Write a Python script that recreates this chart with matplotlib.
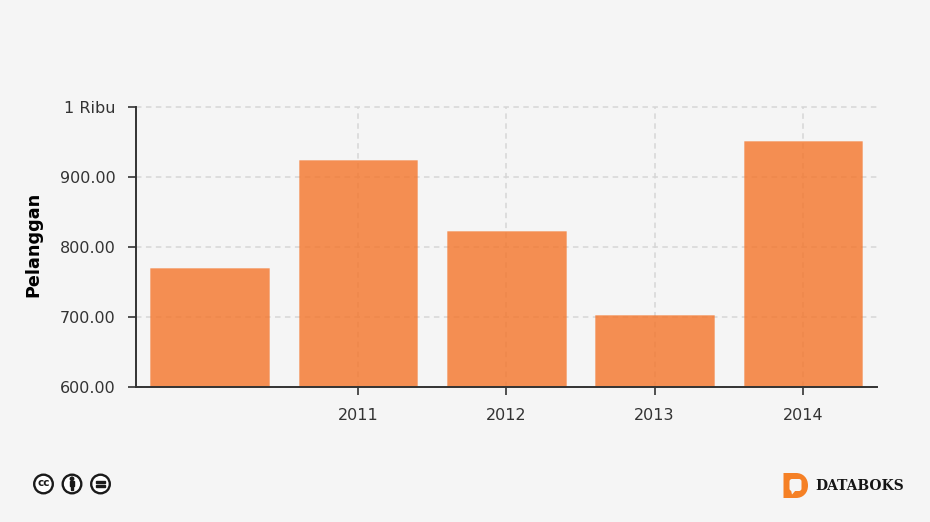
import matplotlib
matplotlib.use('Agg')
import matplotlib.pyplot as plt
from matplotlib.colors import to_rgba
from matplotlib.patches import Circle, Rectangle, FancyBboxPatch, Polygon, PathPatch
from matplotlib.path import Path

categories = ['', '2011', '2012', '2013', '2014']
values = [770, 924, 823, 703, 951]
y_ticks = [600, 700, 800, 900, 1000]
y_labels = ['600.00', '700.00', '800.00', '900.00', '1 Ribu']

W, H = 930, 522
bg = '#f5f5f5'
orange = '#f47429'
dark = '#333333'
grid = '#d6d6d6'

plt.rcParams['font.family'] = ['DejaVu Sans']

fig = plt.figure(figsize=(W / 100, H / 100), dpi=100, facecolor=bg)
ax = fig.add_axes([135.5 / W, 1 - 387 / H, 741.5 / W, 280 / H], facecolor=bg)

positions = list(range(len(categories)))
# grid shows faintly through the bars, edge is a thin lighter line
ax.bar(positions, values, width=0.8, facecolor=to_rgba(orange, 0.8),
       edgecolor=to_rgba(orange, 0.25), linewidth=0.7, zorder=2)

ax.set_xlim(-0.5, 4.5)
ax.set_ylim(600, 1000)

# first category has no label, tick or grid line
ax.set_xticks(positions[1:])
ax.set_xticklabels(categories[1:])
ax.set_yticks(y_ticks)
ax.set_yticklabels(y_labels)

ax.set_axisbelow(True)
ax.grid(True, color=grid, linestyle=(0, (3.6, 2.9)), linewidth=1.1)
for line in ax.get_ygridlines() + ax.get_xgridlines():
    line.set_clip_on(False)

ax.spines['top'].set_visible(False)
ax.spines['right'].set_visible(False)
ax.spines['left'].set_color(dark)
ax.spines['bottom'].set_color(dark)
ax.spines['left'].set_linewidth(1.4)
ax.spines['bottom'].set_linewidth(1.4)
ax.spines['left'].set_zorder(4)
ax.spines['bottom'].set_zorder(4)
ax.tick_params(axis='y', length=6, width=1.2, color=dark, labelcolor=dark, labelsize=11.5, pad=8.5)
ax.tick_params(axis='x', length=6, width=1.2, color=dark, labelcolor=dark, labelsize=11.5, pad=9.2)

fig.text(33.5 / W, 1 - 244.5 / H, 'Pelanggan', rotation=90, ha='center', va='center',
         fontsize=12.7, fontweight='bold', color='black')

# footer logos, drawn in pixel coordinates
logo = fig.add_axes([0, 0, 1, 1], facecolor='none', zorder=5)
logo.set_xlim(0, W)
logo.set_ylim(H, 0)
logo.set_aspect('equal')
logo.axis('off')

for cx in [43.5, 72, 100.5]:
    logo.add_patch(Circle((cx, 484), 9.3, facecolor='white', edgecolor='#1a1a1a', linewidth=1.7))
logo.text(43.5, 483.5, 'cc', ha='center', va='center', fontsize=7.5, fontweight='bold', color='#1a1a1a')
logo.add_patch(Circle((72, 478.8), 1.7, color='#1a1a1a'))
logo.add_patch(Rectangle((69.8, 481), 4.4, 5, color='#1a1a1a'))
logo.add_patch(Rectangle((70.8, 485), 2.4, 5, color='#1a1a1a'))
logo.add_patch(Rectangle((96, 481), 9, 2, color='#1a1a1a'))
logo.add_patch(Rectangle((96, 485), 9, 2, color='#1a1a1a'))

logo_orange = '#f58025'
d_path = Path([(783.5, 473), (796, 473), (803, 473), (808, 478), (808, 485.5),
               (808, 493), (803, 498), (796, 498), (783.5, 498), (783.5, 473)],
              [Path.MOVETO, Path.LINETO, Path.CURVE4, Path.CURVE4, Path.CURVE4,
               Path.CURVE4, Path.CURVE4, Path.CURVE4, Path.LINETO, Path.CLOSEPOLY])
logo.add_patch(PathPatch(d_path, facecolor=logo_orange, edgecolor='none'))
logo.add_patch(FancyBboxPatch((789.5, 479), 12, 12, boxstyle='round,pad=0,rounding_size=2.5',
                              facecolor=bg, edgecolor='none'))
logo.add_patch(Polygon([(791, 490), (796, 490), (792, 494.5)], facecolor=bg, edgecolor='none'))
logo.text(815, 486, 'DATABOKS', ha='left', va='center', fontsize=10, fontweight='bold',
          family='DejaVu Serif', color='#151515')

fig.savefig('out.png', dpi=100, facecolor=bg)
